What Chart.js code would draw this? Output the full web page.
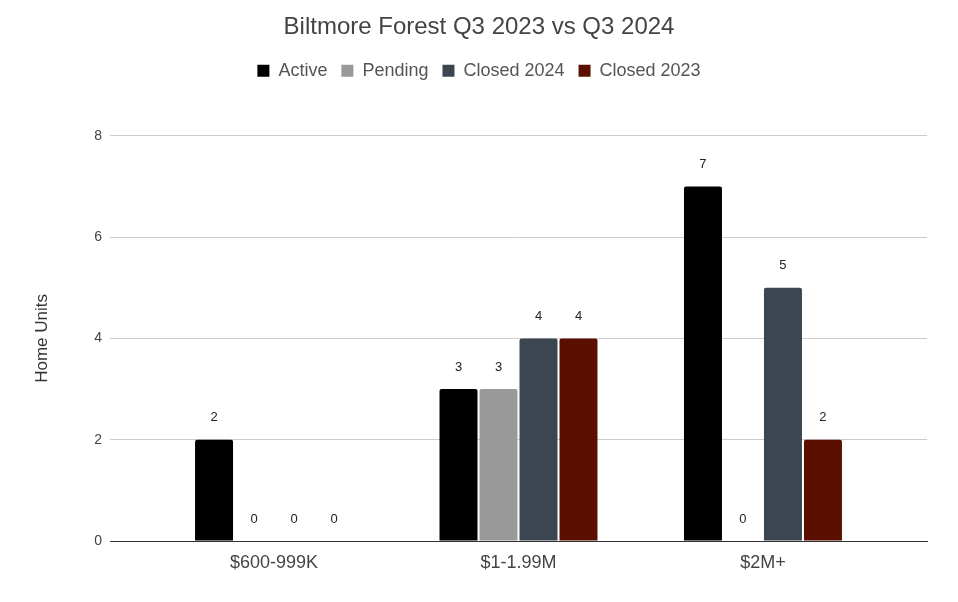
<!DOCTYPE html>
<html>
<head>
<meta charset="utf-8">
<title>Biltmore Forest Q3 2023 vs Q3 2024</title>
<script src="https://cdn.jsdelivr.net/npm/chart.js@4.4.1/dist/chart.umd.min.js"></script>
<style>
  html, body { margin: 0; padding: 0; background: #fff; }
  #wrap { width: 958px; height: 602px; }
</style>
</head>
<body>
<div id="wrap"><canvas id="unitsChart"></canvas></div>
<script>
// datos del gráfico
const categories = ['$600-999K', '$1-1.99M', '$2M+'];
const active = [2, 3, 7];
const pending = [0, 3, 0];
const closed2024 = [0, 4, 5];
const closed2023 = [0, 4, 2];
const yTicks = [0, 2, 4, 6, 8];

const FONT = "'Liberation Sans', Arial, sans-serif";

function toPoints(values) {
    return values.map((v, i) => ({ x: i, y: v }));
}

// etiquetas de valor encima de cada barra
const valueLabels = {
    id: 'valueLabels',
    afterDatasetsDraw(chart) {
        const { ctx } = chart;
        ctx.save();
        ctx.font = "13px " + FONT;
        ctx.fillStyle = '#222';
        ctx.textAlign = 'center';
        ctx.textBaseline = 'middle';
        chart.data.datasets.forEach((ds, di) => {
            const meta = chart.getDatasetMeta(di);
            meta.data.forEach((bar, i) => {
                ctx.fillText(String(ds.data[i].y), bar.x, bar.y - 22);
            });
        });
        ctx.restore();
    }
};

// espacio extra debajo de la leyenda
const legendGap = {
    id: 'legendGap',
    beforeInit(chart) {
        const fit = chart.legend.fit;
        chart.legend.fit = function () {
            fit.bind(chart.legend)();
            this.height += 46;
        };
    }
};

new Chart(document.getElementById('unitsChart'), {
    type: 'bar',
    data: {
        datasets: [
            { label: 'Active', data: toPoints(active), backgroundColor: '#000000' },
            { label: 'Pending', data: toPoints(pending), backgroundColor: '#999999' },
            { label: 'Closed 2024', data: toPoints(closed2024), backgroundColor: '#3c4650' },
            { label: 'Closed 2023', data: toPoints(closed2023), backgroundColor: '#5b0f00' }
        ]
    },
    options: {
        responsive: true,
        maintainAspectRatio: false,
        animation: false,
        layout: { padding: { left: 31, right: 31, top: 8, bottom: 0 } },
        datasets: {
            bar: {
                categoryPercentage: 0.6544,
                barPercentage: 0.95,
                borderRadius: 2,
                borderWidth: 0
            }
        },
        plugins: {
            title: {
                display: true,
                text: 'Biltmore Forest Q3 2023 vs Q3 2024',
                color: '#444',
                font: { family: FONT, size: 24, weight: 'normal' },
                padding: { top: 5, bottom: 6 }
            },
            legend: {
                position: 'top',
                labels: {
                    color: '#555',
                    boxWidth: 12,
                    boxHeight: 12,
                    padding: 14,
                    font: { family: FONT, size: 18 }
                }
            },
            tooltip: { enabled: false }
        },
        scales: {
            x: {
                type: 'linear',
                offset: false,
                min: -0.671,
                max: 2.671,
                afterBuildTicks(scale) {
                    scale.ticks = categories.map((c, i) => ({ value: i }));
                },
                afterFit(scale) { scale.height = 61; },
                ticks: {
                    color: '#444',
                    padding: 3,
                    font: { family: FONT, size: 18 },
                    callback: (v) => categories[v]
                },
                grid: { display: false },
                border: { display: true, color: '#333', width: 1 }
            },
            y: {
                min: 0,
                max: 8,
                afterBuildTicks(scale) {
                    scale.ticks = yTicks.map(v => ({ value: v }));
                },
                afterFit(scale) { scale.width = 79; },
                title: {
                    display: true,
                    text: 'Home Units',
                    color: '#333',
                    font: { family: FONT, size: 17 },
                    padding: { top: 1, bottom: 0 }
                },
                ticks: {
                    color: '#444',
                    padding: 8,
                    font: { family: FONT, size: 14 }
                },
                grid: { color: '#cccccc', drawTicks: false },
                border: { display: false }
            }
        }
    },
    plugins: [valueLabels, legendGap]
});
</script>
</body>
</html>
